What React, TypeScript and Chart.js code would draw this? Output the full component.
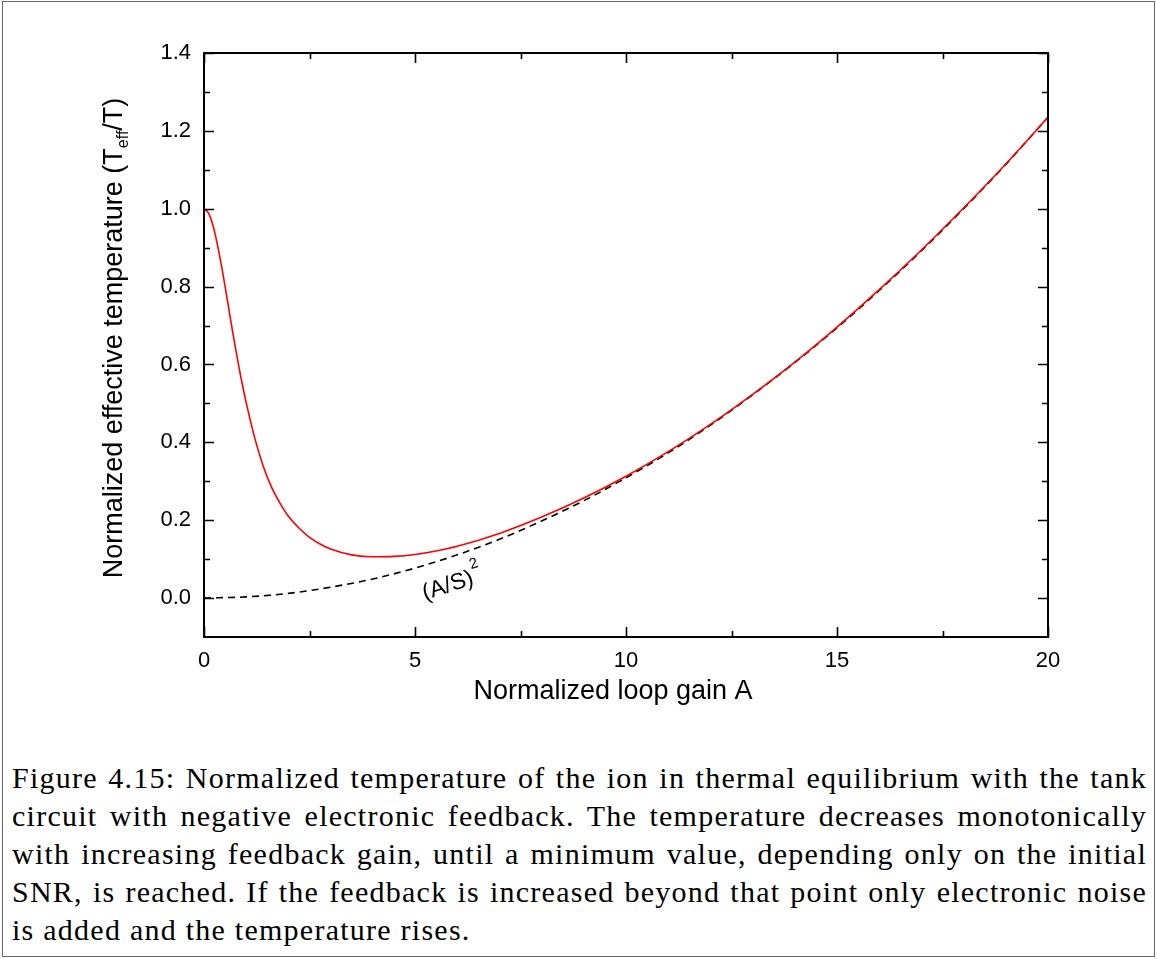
import React, { useEffect, useRef } from "react";
import { Chart, registerables } from "chart.js";

Chart.register(...registerables);

// Normalized loop gain A (x) and normalized effective temperature (y)
const gainA = [0, 0.1, 0.2, 0.3, 0.4, 0.5, 0.6, 0.7, 0.8, 0.9, 1.0, 1.2, 1.4, 1.6, 1.8, 2.0, 2.25, 2.5, 2.75, 3.0, 3.5, 4.0, 4.5, 5.0, 5.5, 6.0, 7.0, 8.0, 9.0, 10, 11, 12, 13, 14, 15, 16, 17, 18, 19, 20];
const tempRatio = [1.0, 0.99, 0.962, 0.917, 0.862, 0.8, 0.735, 0.67, 0.61, 0.553, 0.502, 0.412, 0.34, 0.285, 0.244, 0.21, 0.18, 0.156, 0.139, 0.126, 0.111, 0.106, 0.107, 0.112, 0.121, 0.133, 0.166, 0.208, 0.257, 0.313, 0.376, 0.446, 0.523, 0.606, 0.696, 0.792, 0.894, 1.002, 1.115, 1.235];

// (A/S)^2 reference curve
const asGain = [0, 1, 2, 3, 4, 5, 6, 7, 8, 9, 10, 11, 12, 13, 14, 15, 16, 17, 18, 19, 20];
const asSquared = [0, 0.003, 0.012, 0.028, 0.049, 0.077, 0.111, 0.151, 0.198, 0.25, 0.309, 0.373, 0.444, 0.522, 0.605, 0.694, 0.79, 0.892, 1.0, 1.114, 1.235];

const xTickValues = [0, 5, 10, 15, 20];
const xMinorTicks = [2.5, 7.5, 12.5, 17.5];
const yTickValues = [0, 0.2, 0.4, 0.6, 0.8, 1.0, 1.2, 1.4];
const yMinorTicks = [0.1, 0.3, 0.5, 0.7, 0.9, 1.1, 1.3];

const xTitle = "Normalized loop gain A";
const yTitleMain = "Normalized effective temperature (T";
const yTitleSub = "eff";
const yTitleEnd = "/T)";
const curveLabel = "(A/S)";
const curveLabelSup = "2";
const curveLabelPos = { x: 5.78, y: 0.031 };

const captionLines = [
  "Figure 4.15: Normalized temperature of the ion in thermal equilibrium with the tank",
  "circuit with negative electronic feedback. The temperature decreases monotonically",
  "with increasing feedback gain, until a minimum value, depending only on the initial",
  "SNR, is reached. If the feedback is increased beyond that point only electronic noise",
  "is added and the temperature rises.",
];

const SANS = '"Liberation Sans", Arial, sans-serif';

const framePlugin = {
  id: "frameTicks",
  afterDraw(chart: any) {
    const { ctx, chartArea: a, scales } = chart;
    const x = scales.x;
    const y = scales.y;
    ctx.save();
    ctx.strokeStyle = "#000";
    ctx.lineWidth = 1.6;
    const major = 10;
    const minor = 6;
    ctx.beginPath();
    for (const v of xTickValues.concat(xMinorTicks)) {
      const len = xTickValues.includes(v) ? major : minor;
      const px = Math.round(x.getPixelForValue(v)) + 0.5;
      ctx.moveTo(px, a.bottom);
      ctx.lineTo(px, a.bottom - len);
      ctx.moveTo(px, a.top);
      ctx.lineTo(px, a.top + len);
    }
    for (const v of yTickValues.concat(yMinorTicks)) {
      const len = yTickValues.includes(v) ? major : minor;
      const py = Math.round(y.getPixelForValue(v)) + 0.5;
      ctx.moveTo(a.left, py);
      ctx.lineTo(a.left + len, py);
      ctx.moveTo(a.right, py);
      ctx.lineTo(a.right - len, py);
    }
    ctx.stroke();
    ctx.lineWidth = 2;
    ctx.strokeRect(a.left, a.top, a.right - a.left, a.bottom - a.top);

    // x title
    ctx.fillStyle = "#000";
    ctx.font = `27px ${SANS}`;
    ctx.textAlign = "center";
    ctx.textBaseline = "middle";
    ctx.fillText(xTitle, 613, 692);

    // y title with subscript
    ctx.save();
    ctx.translate(112, 338);
    ctx.rotate(-Math.PI / 2);
    const mainFont = `27px ${SANS}`;
    const subFont = `16px ${SANS}`;
    ctx.font = mainFont;
    const w1 = ctx.measureText(yTitleMain).width;
    const w3 = ctx.measureText(yTitleEnd).width;
    ctx.font = subFont;
    const w2 = ctx.measureText(yTitleSub).width;
    const total = w1 + w2 + w3;
    let cx = -total / 2;
    ctx.textAlign = "left";
    ctx.textBaseline = "alphabetic";
    ctx.font = mainFont;
    ctx.fillText(yTitleMain, cx, 10);
    cx += w1;
    ctx.font = subFont;
    ctx.fillText(yTitleSub, cx, 16);
    cx += w2;
    ctx.font = mainFont;
    ctx.fillText(yTitleEnd, cx, 10);
    ctx.restore();

    // curve annotation
    ctx.save();
    const lx = x.getPixelForValue(curveLabelPos.x);
    const ly = y.getPixelForValue(curveLabelPos.y);
    ctx.translate(lx, ly);
    ctx.rotate((-18 * Math.PI) / 180);
    ctx.font = `23px ${SANS}`;
    ctx.textAlign = "center";
    ctx.textBaseline = "middle";
    ctx.fillText(curveLabel, 0, 0);
    const lw = ctx.measureText(curveLabel).width;
    ctx.font = `15px ${SANS}`;
    ctx.textAlign = "left";
    ctx.fillText(curveLabelSup, lw / 2 + 1, -13);
    ctx.restore();

    ctx.restore();
  },
};

export default function App() {
  const canvasRef = useRef<HTMLCanvasElement | null>(null);

  useEffect(() => {
    if (!canvasRef.current) return;
    const chart = new Chart(canvasRef.current, {
      type: "line",
      data: {
        datasets: [
          {
            label: "T_eff/T",
            data: gainA.map((a, i) => ({ x: a, y: tempRatio[i] })),
            borderColor: "#ff0000",
            borderWidth: 1.6,
            pointRadius: 0,
            cubicInterpolationMode: "monotone",
            fill: false,
          },
          {
            label: "(A/S)^2",
            data: asGain.map((a, i) => ({ x: a, y: asSquared[i] })),
            borderColor: "#000000",
            borderWidth: 1.6,
            borderDash: [7, 5],
            pointRadius: 0,
            cubicInterpolationMode: "monotone",
            fill: false,
          },
        ],
      },
      options: {
        responsive: false,
        animation: false,
        events: [],
        layout: { padding: { left: 0, right: 109, top: 53, bottom: 0 } },
        plugins: {
          legend: { display: false },
          tooltip: { enabled: false },
          title: { display: false },
        },
        scales: {
          x: {
            type: "linear",
            min: 0,
            max: 20,
            grid: { display: false, drawTicks: false },
            border: { display: false },
            afterBuildTicks: (s: any) => {
              s.ticks = xTickValues.map((v) => ({ value: v }));
            },
            afterFit: (s: any) => {
              s.height = 103;
            },
            ticks: {
              color: "#000",
              padding: 11,
              maxRotation: 0,
              autoSkip: false,
              font: { family: SANS, size: 22 },
              callback: (v: any) => String(v),
            },
          },
          y: {
            type: "linear",
            min: -0.1,
            max: 1.4,
            grid: { display: false, drawTicks: false },
            border: { display: false },
            afterBuildTicks: (s: any) => {
              s.ticks = yTickValues.map((v) => ({ value: v }));
            },
            afterFit: (s: any) => {
              s.width = 204;
            },
            ticks: {
              color: "#000",
              padding: 13,
              autoSkip: false,
              font: { family: SANS, size: 22 },
              callback: (v: any) => Number(v).toFixed(1),
            },
          },
        },
      },
      plugins: [framePlugin],
    });
    return () => chart.destroy();
  }, []);

  return (
    <div
      style={{
        position: "fixed",
        left: 0,
        top: 0,
        width: 1157,
        height: 959,
        background: "#fff",
        overflow: "hidden",
      }}
    >
      <div
        style={{
          position: "absolute",
          left: 2,
          top: 1,
          width: 1153,
          height: 956,
          border: "1px solid #666",
          boxSizing: "border-box",
        }}
      />
      <canvas
        ref={canvasRef}
        width={1157}
        height={740}
        style={{ position: "absolute", left: 0, top: 0, width: 1157, height: 740 }}
      />
      <div
        style={{
          position: "absolute",
          left: 12,
          top: 759,
          width: 1135,
          fontFamily: '"Liberation Serif", "Times New Roman", serif',
          fontSize: 30,
          letterSpacing: "1.25px",
          lineHeight: "38px",
          color: "#000",
        }}
      >
        {captionLines.map((line, i) => (
          <div
            key={i}
            style={{
              textAlign: i === captionLines.length - 1 ? "left" : "justify",
              textAlignLast: i === captionLines.length - 1 ? "left" : "justify",
              whiteSpace: "nowrap",
            }}
          >
            {line}
          </div>
        ))}
      </div>
    </div>
  );
}
